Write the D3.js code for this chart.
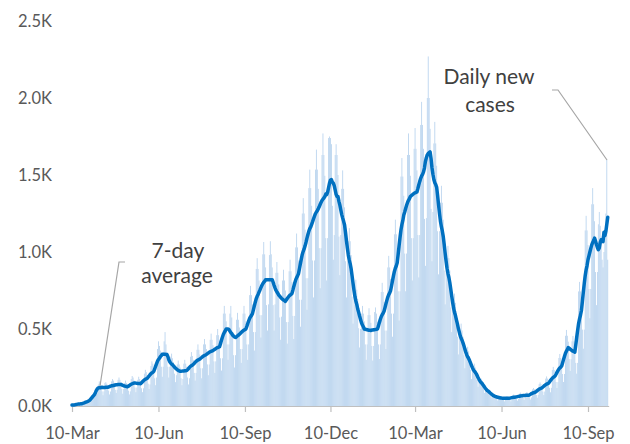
<!DOCTYPE html>
<html>
<head>
<meta charset="utf-8">
<script src="https://cdn.jsdelivr.net/npm/d3@7"></script>
<style>
  html, body { margin: 0; padding: 0; background: #ffffff; }
  svg { display: block; }
</style>
</head>
<body>
<script>
// ---- Data ----
const startDate = new Date(2020, 2, 10); // first day of the series: 10-Mar-2020

// Daily new cases, one row per week (Tue..Mon)
const dailyCasesByWeek = [
  [3,5,8,10,9,8,13],
  [12,15,18,17,13,12,18],
  [22,28,35,36,30,25,34],
  [50,62,80,90,85,75,83],
  [140,160,150,130,95,70,95],
  [150,155,145,135,100,75,94],
  [160,175,165,150,105,85,105],
  [170,185,170,155,110,80,110],
  [150,165,150,140,100,75,95],
  [175,195,185,165,120,90,120],
  [170,190,175,160,115,90,115],
  [210,235,220,200,145,110,140],
  [260,290,275,250,180,135,185],
  [370,420,390,360,255,190,255],
  [420,480,400,350,255,185,255],
  [320,340,310,285,210,155,200],
  [270,295,270,250,180,135,175],
  [275,300,275,255,185,140,180],
  [320,350,325,300,215,165,215],
  [365,400,365,335,245,180,245],
  [400,435,400,370,270,200,270],
  [430,470,430,395,290,215,290],
  [460,500,460,425,310,230,310],
  [600,650,600,550,400,300,400],
  [600,650,575,480,330,250,330],
  [560,605,560,510,370,280,370],
  [600,650,600,550,400,300,400],
  [720,780,720,660,480,360,480],
  [890,960,890,815,590,445,590],
  [985,1065,985,900,655,490,660],
  [980,1070,985,900,655,490,660],
  [865,935,865,790,575,430,580],
  [815,885,815,750,545,405,545],
  [875,950,875,805,585,435,585],
  [1030,1120,1030,945,690,515,690],
  [1250,1350,1250,1145,830,625,830],
  [1415,1535,1415,1300,945,705,945],
  [1535,1665,1535,1410,1025,765,1025],
  [1630,1770,1630,1495,1090,815,1090],
  [1740,1750,1740,1700,1300,950,1110],
  [1630,1700,1630,1500,1100,850,1110],
  [1410,1530,1410,1290,940,705,940],
  [1070,1155,1070,980,710,535,710],
  [755,820,755,695,505,380,500],
  [600,650,600,550,400,300,400],
  [590,635,590,540,390,295,390],
  [610,640,600,545,400,305,400],
  [740,800,740,675,490,370,490],
  [900,975,900,825,600,450,600],
  [1115,1210,1115,1025,745,555,745],
  [1490,1610,1490,1365,990,745,990],
  [1630,1770,1630,1495,1090,815,1090],
  [1670,1805,1670,1530,1110,835,1110],
  [1825,1975,1825,1670,1215,910,1220],
  [2000,2270,2000,1800,1280,940,1260],
  [1705,1845,1705,1560,1135,855,1135],
  [1320,1430,1320,1210,880,660,880],
  [960,1040,960,880,640,480,640],
  [670,730,670,615,450,335,450],
  [490,535,490,450,330,245,330],
  [355,385,355,325,235,175,235],
  [250,275,250,230,170,125,170],
  [170,180,170,155,110,85,110],
  [110,115,110,100,70,55,70],
  [70,80,70,65,50,35,50],
  [60,65,60,55,40,30,40],
  [62,63,60,55,40,30,40],
  [70,75,70,65,45,35,46],
  [80,87,80,74,54,40,54],
  [84,91,84,77,56,42,56],
  [108,117,108,99,72,54,72],
  [142,153,142,130,94,71,94],
  [178,192,178,163,118,89,118],
  [234,254,234,215,156,117,155],
  [312,338,312,286,208,156,208],
  [456,494,456,418,304,228,304],
  [420,455,420,385,280,210,280],
  [744,806,744,682,496,372,496],
  [1140,1235,1140,1045,760,570,760],
  [1310,1415,1310,1200,870,655,870],
  [1180,1260,1170,1100,950,900,1000],
  [1100,1250,1600,950]
];

const xTickDates = [
  new Date(2020, 2, 10), new Date(2020, 5, 10), new Date(2020, 8, 10),
  new Date(2020, 11, 10), new Date(2021, 2, 10), new Date(2021, 5, 10),
  new Date(2021, 8, 10)
];
const yTickValues = [0, 500, 1000, 1500, 2000, 2500];

const annotationAvg = ["7-day", "average"];
const annotationDaily = ["Daily new", "cases"];

// ---- Build series ----
const daily = dailyCasesByWeek.flat();
const nDays = daily.length;
const series = daily.map((v, i) => ({ date: d3.timeDay.offset(startDate, i), value: v }));
// centred 7-day average
const avg = series.map((d, i) => {
  const lo = Math.max(0, i - 3), hi = Math.min(nDays - 1, i + 3);
  return { date: d.date, value: d3.mean(daily.slice(lo, hi + 1)) };
});

// ---- Chart ----
const W = 630, H = 444;
const svg = d3.select("body").append("svg").attr("width", W).attr("height", H);
const font = "Lato, 'Open Sans', sans-serif";

const x = d3.scaleTime()
  .domain([startDate, d3.timeDay.offset(startDate, nDays)])
  .range([72, 72 + nDays * (516 / 549)]);
const y = d3.scaleLinear().domain([0, 2500]).range([406, 21]);

// bars
const bw = 0.85;
svg.append("g").selectAll("rect").data(series).join("rect")
  .attr("x", d => x(d.date) - bw / 2)
  .attr("y", d => y(d.value))
  .attr("width", bw)
  .attr("height", d => y(0) - y(d.value))
  .attr("fill", "#b8d3ee");

// x axis
const xAxis = svg.append("g")
  .attr("transform", "translate(0,406)")
  .call(d3.axisBottom(x).tickValues(xTickDates).tickSize(6).tickSizeOuter(0)
    .tickFormat(d3.timeFormat("%d-%b")));
xAxis.select(".domain").attr("stroke", "#bfbfbf").attr("stroke-width", 1.2);
xAxis.selectAll(".tick line").attr("stroke", "#bfbfbf").attr("stroke-width", 1.2);
xAxis.selectAll(".tick text")
  .attr("y", 21)
  .attr("fill", "#595959")
  .style("font-family", font)
  .style("font-size", "16.5px");

// y axis labels
const yAxis = svg.append("g")
  .attr("transform", "translate(52,0)")
  .call(d3.axisLeft(y).tickValues(yTickValues).tickSize(0).tickPadding(0)
    .tickFormat(v => d3.format(".1f")(v / 1000) + "K"));
yAxis.select(".domain").remove();
yAxis.selectAll(".tick text")
  .attr("fill", "#595959")
  .style("font-family", font)
  .style("font-size", "16.5px");

// 7-day average line
svg.append("path")
  .datum(avg)
  .attr("fill", "none")
  .attr("stroke", "#0070c0")
  .attr("stroke-width", 3.5)
  .attr("stroke-linejoin", "round")
  .attr("stroke-linecap", "round")
  .attr("d", d3.line().x(d => x(d.date)).y(d => y(d.value)));

// annotations
const leader = svg.append("g").attr("fill", "none").attr("stroke", "#a6a6a6").attr("stroke-width", 1.2);
leader.append("path").attr("d", "M125,262 L119,262 L100,386");
leader.append("path").attr("d", "M552,90 L558,90 L607,160");

const ann = svg.append("g").attr("fill", "#404040")
  .style("font-family", font).style("font-size", "21px").attr("text-anchor", "middle");
ann.append("text").attr("x", 178).attr("y", 258).text(annotationAvg[0]);
ann.append("text").attr("x", 177).attr("y", 283).text(annotationAvg[1]);
ann.append("text").attr("x", 489).attr("y", 84).text(annotationDaily[0]);
ann.append("text").attr("x", 490).attr("y", 112).text(annotationDaily[1]);
</script>
</body>
</html>
